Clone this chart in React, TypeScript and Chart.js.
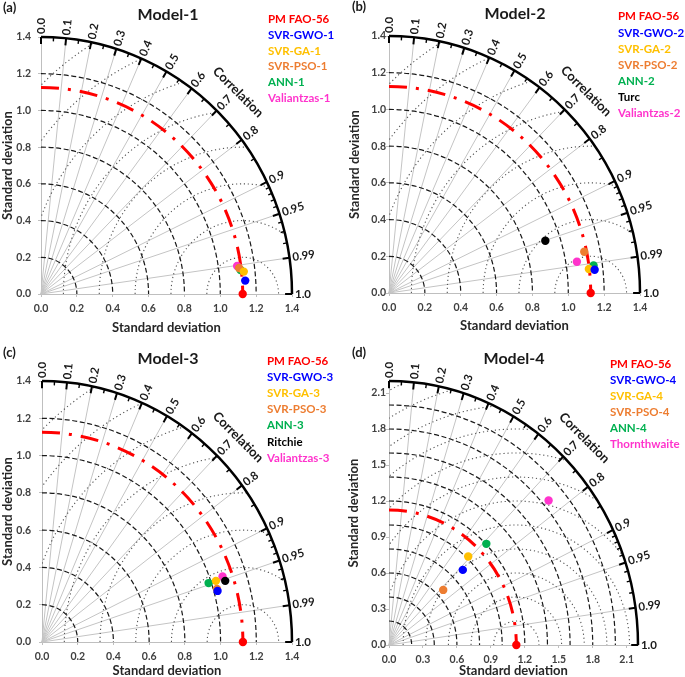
import React, { useEffect, useRef } from "react";
import { Chart, registerables } from "chart.js";

Chart.register(...registerables);

const FONT = "Lato, 'Open Sans', 'DejaVu Sans', sans-serif";

const RED = "#FF0000";
const BLUE = "#0000FF";
const YELLOW = "#FFC000";
const ORANGE = "#ED7D31";
const GREEN = "#00B050";
const BLACK = "#000000";
const PINK = "#FF33CC";

// Reference (observed) standard deviation
const refStd = 1.125;

// Correlation axis
const corrMajor = [0, 0.1, 0.2, 0.3, 0.4, 0.5, 0.6, 0.7, 0.8, 0.9, 0.95, 0.99, 1.0];
const corrMajorLabels = ["0.0", "0.1", "0.2", "0.3", "0.4", "0.5", "0.6", "0.7", "0.8", "0.9", "0.95", "0.99", "1.0"];
const corrMinor = [0.05, 0.15, 0.25, 0.35, 0.45, 0.55, 0.65, 0.75, 0.85, 0.91, 0.92, 0.93, 0.94, 0.96, 0.97, 0.98];
const corrLines = [0.1, 0.2, 0.3, 0.4, 0.5, 0.6, 0.7, 0.8, 0.9, 0.95, 0.99];

// Std-dev arcs (dashed) and RMSD arcs (dotted)
const stdArcsSmall = [0.2, 0.4, 0.6, 0.8, 1.0, 1.2];
const stdArcsLarge = [0.2, 0.4, 0.6, 0.8, 1.0, 1.2, 1.4, 1.6, 1.8, 2.0];
const rmsArcsSmall = [0.2, 0.4, 0.6, 0.8, 1.0, 1.2, 1.4, 1.6, 1.8];
const rmsArcsLarge = [0.2, 0.4, 0.6, 0.8, 1.0, 1.2, 1.4, 1.6, 1.8, 2.0, 2.2, 2.4];

// Model-1
const m1Names = ["PM FAO-56", "SVR-GWO-1", "SVR-GA-1", "SVR-PSO-1", "ANN-1", "Valiantzas-1"];
const m1Colors = [RED, BLUE, YELLOW, ORANGE, GREEN, PINK];
const m1X = [1.125, 1.139, 1.131, 1.105, 1.113, 1.094];
const m1Y = [0, 0.073, 0.122, 0.142, 0.131, 0.153];

// Model-2
const m2Names = ["PM FAO-56", "SVR-GWO-2", "SVR-GA-2", "SVR-PSO-2", "ANN-2", "Turc", "Valiantzas-2"];
const m2Colors = [RED, BLUE, YELLOW, ORANGE, GREEN, BLACK, PINK];
const m2X = [1.125, 1.147, 1.115, 1.089, 1.141, 0.872, 1.048];
const m2Y = [0, 0.127, 0.131, 0.225, 0.15, 0.285, 0.17];

// Model-3
const m3Names = ["PM FAO-56", "SVR-GWO-3", "SVR-GA-3", "SVR-PSO-3", "ANN-3", "Ritchie", "Valiantzas-3"];
const m3Colors = [RED, BLUE, YELLOW, ORANGE, GREEN, BLACK, PINK];
const m3X = [1.125, 0.983, 0.974, 0.98, 0.933, 1.026, 1.011];
const m3Y = [0, 0.274, 0.328, 0.284, 0.316, 0.328, 0.351];

// Model-4
const m4Names = ["PM FAO-56", "SVR-GWO-4", "SVR-GA-4", "SVR-PSO-4", "ANN-4", "Thornthwaite"];
const m4Colors = [RED, BLUE, YELLOW, ORANGE, GREEN, PINK];
const m4X = [1.125, 0.652, 0.7, 0.479, 0.86, 1.41];
const m4Y = [0, 0.626, 0.737, 0.459, 0.843, 1.204];

type PanelCfg = {
  tag: string;
  title: string;
  names: string[];
  colors: string[];
  xs: number[];
  ys: number[];
  max: number;
  step: number;
  stdArcs: number[];
  rmsArcs: number[];
  w: number;
  h: number;
  left: number;
  top: number;
  right: number;
  bottom: number;
  yTickPad: number;
  xTickPad: number;
  yTitlePad: number;
  xTitlePad: number;
  titleX: number;
  titleY: number;
  tagX: number;
  tagY: number;
  legX: number;
  legY: number;
  legStep: number;
  posX: number;
  posY: number;
};

const panels: PanelCfg[] = [
  {
    tag: "(a)", title: "Model-1", names: m1Names, colors: m1Colors, xs: m1X, ys: m1Y,
    max: 1.4, step: 0.2, stdArcs: stdArcsSmall, rmsArcs: rmsArcsSmall,
    w: 342, h: 338, left: 41, top: 37, right: 292, bottom: 294,
    yTickPad: 7, xTickPad: 5, yTitlePad: 0, xTitlePad: 2,
    titleX: 168, titleY: 15, tagX: 3, tagY: 8, legX: 268, legY: 19, legStep: 15.9,
    posX: 0, posY: 0,
  },
  {
    tag: "(b)", title: "Model-2", names: m2Names, colors: m2Colors, xs: m2X, ys: m2Y,
    max: 1.4, step: 0.2, stdArcs: stdArcsSmall, rmsArcs: rmsArcsSmall,
    w: 343, h: 338, left: 47, top: 36, right: 298, bottom: 293,
    yTickPad: 0, xTickPad: 5, yTitlePad: 5.5, xTitlePad: 4,
    titleX: 173, titleY: 14, tagX: 10, tagY: 7, legX: 276, legY: 16.7, legStep: 16.1,
    posX: 342, posY: 0,
  },
  {
    tag: "(c)", title: "Model-3", names: m3Names, colors: m3Colors, xs: m3X, ys: m3Y,
    max: 1.4, step: 0.2, stdArcs: stdArcsSmall, rmsArcs: rmsArcsSmall,
    w: 342, h: 339, left: 42, top: 43, right: 292, bottom: 304,
    yTickPad: 8, xTickPad: 5, yTitlePad: 0, xTitlePad: -2,
    titleX: 168, titleY: 20.7, tagX: 3, tagY: 15, legX: 267, legY: 23.3, legStep: 16.1,
    posX: 0, posY: 338,
  },
  {
    tag: "(d)", title: "Model-4", names: m4Names, colors: m4Colors, xs: m4X, ys: m4Y,
    max: 2.2, step: 0.3, stdArcs: stdArcsLarge, rmsArcs: rmsArcsLarge,
    w: 343, h: 339, left: 47, top: 43, right: 296, bottom: 307,
    yTickPad: 0, xTickPad: 5, yTitlePad: 4.5, xTitlePad: -2,
    titleX: 172, titleY: 20.7, tagX: 10, tagY: 15, legX: 268, legY: 26, legStep: 16.1,
    posX: 342, posY: 338,
  },
];

function makeTaylorPlugin(p: PanelCfg) {
  return {
    id: "taylor",
    beforeDatasetsDraw(chart: any) {
      const ctx: CanvasRenderingContext2D = chart.ctx;
      const sx = chart.scales.x;
      const sy = chart.scales.y;
      const ox = sx.getPixelForValue(0);
      const oy = sy.getPixelForValue(0);
      const kx = sx.getPixelForValue(1) - ox;
      const ky = oy - sy.getPixelForValue(1);
      const R = p.max;
      const Rp = (R * (kx + ky)) / 2;
      const pt = (r: number, th: number) => [ox + r * Math.cos(th) * kx, oy - r * Math.sin(th) * ky];

      ctx.save();
      // correlation rays
      ctx.strokeStyle = "#C4C4C4";
      ctx.lineWidth = 1;
      for (const c of corrLines) {
        const th = Math.acos(c);
        const [x1, y1] = pt(R, th);
        ctx.beginPath();
        ctx.moveTo(ox, oy);
        ctx.lineTo(x1, y1);
        ctx.stroke();
      }

      // std-dev arcs, dashed
      ctx.setLineDash([5, 2.6]);
      ctx.strokeStyle = "#1a1a1a";
      ctx.lineWidth = 1.2;
      for (const r of p.stdArcs) {
        ctx.beginPath();
        ctx.ellipse(ox, oy, r * kx, r * ky, 0, -Math.PI / 2, 0);
        ctx.stroke();
      }

      // RMSD arcs, dotted, clipped to the quadrant
      ctx.save();
      ctx.beginPath();
      ctx.moveTo(ox, oy);
      ctx.ellipse(ox, oy, R * kx, R * ky, 0, -Math.PI / 2, 0);
      ctx.closePath();
      ctx.clip();
      ctx.setLineDash([1.2, 2.8]);
      ctx.strokeStyle = "#555555";
      ctx.lineWidth = 1.1;
      const cx = sx.getPixelForValue(refStd);
      for (const r of p.rmsArcs) {
        ctx.beginPath();
        ctx.ellipse(cx, oy, r * kx, r * ky, 0, Math.PI, 2 * Math.PI);
        ctx.stroke();
      }
      ctx.restore();

      // reference std arc, red dash-dot
      ctx.setLineDash([18, 9, 3, 9]);
      ctx.strokeStyle = RED;
      ctx.lineWidth = 3;
      ctx.beginPath();
      ctx.ellipse(ox, oy, refStd * kx, refStd * ky, 0, -Math.PI / 2, 0);
      ctx.stroke();

      // outer arc
      ctx.setLineDash([]);
      ctx.strokeStyle = "#000";
      ctx.lineWidth = 2.5;
      ctx.beginPath();
      ctx.ellipse(ox, oy, R * kx, R * ky, 0, -Math.PI / 2, 0);
      ctx.stroke();

      // ticks (inward)
      const tick = (c: number, len: number, w: number) => {
        const th = Math.acos(c);
        const [x1, y1] = pt(R, th);
        const [x2, y2] = pt(R * (1 - len / Rp), th);
        ctx.lineWidth = w;
        ctx.beginPath();
        ctx.moveTo(x1, y1);
        ctx.lineTo(x2, y2);
        ctx.stroke();
      };
      for (const c of corrMajor) tick(c, 7, 2);
      for (const c of corrMinor) tick(c, 4, 1.4);

      // correlation labels
      ctx.font = `bold 11.5px ${FONT}`;
      ctx.fillStyle = "#1a1a1a";
      ctx.textAlign = "left";
      ctx.textBaseline = "middle";
      corrMajor.forEach((c, i) => {
        const th = Math.acos(c);
        const [x1, y1] = pt(R * (1 + 3 / Rp), th);
        ctx.save();
        ctx.translate(x1, y1);
        ctx.rotate(-th);
        ctx.fillText(corrMajorLabels[i], 0, 0);
        ctx.restore();
      });

      // "Correlation" caption
      {
        const th = Math.PI / 4;
        const [x1, y1] = pt(R * (1 + 28 / Rp), th);
        ctx.save();
        ctx.translate(x1, y1);
        ctx.rotate(Math.PI / 2 - th);
        ctx.font = `bold 13px ${FONT}`;
        ctx.fillStyle = "#1a1a1a";
        ctx.textAlign = "center";
        ctx.textBaseline = "middle";
        ctx.fillText("Correlation", 0, 0);
        ctx.restore();
      }
      ctx.restore();
    },
    afterDraw(chart: any) {
      const ctx: CanvasRenderingContext2D = chart.ctx;
      ctx.save();
      ctx.textBaseline = "middle";
      // panel tag
      ctx.font = `bold 13px ${FONT}`;
      ctx.fillStyle = "#1a1a1a";
      ctx.textAlign = "left";
      ctx.fillText(p.tag, p.tagX, p.tagY);
      // title
      ctx.font = `bold 16px ${FONT}`;
      ctx.textAlign = "center";
      ctx.fillText(p.title, p.titleX, p.titleY);
      // legend
      ctx.font = `bold 11.5px ${FONT}`;
      ctx.textAlign = "left";
      p.names.forEach((n, i) => {
        ctx.fillStyle = p.colors[i];
        ctx.fillText(n, p.legX, p.legY + i * p.legStep);
      });
      ctx.restore();
    },
  };
}

function Panel({ cfg }: { cfg: PanelCfg }) {
  const ref = useRef<HTMLCanvasElement | null>(null);
  useEffect(() => {
    if (!ref.current) return;
    const p = cfg;
    const tickFont = { family: FONT, size: 10.5, weight: "bold" as const };
    const titleFont = { family: FONT, size: 13, weight: "bold" as const };
    const fmt = (v: any) => Number(v).toFixed(1);
    const chart = new Chart(ref.current, {
      type: "scatter",
      data: {
        datasets: p.names.map((n, i) => ({
          label: n,
          data: [{ x: p.xs[i], y: p.ys[i] }],
          backgroundColor: p.colors[i],
          borderColor: p.colors[i],
          borderWidth: 0,
          pointRadius: 4.2,
          pointHoverRadius: 4.2,
          clip: false as any,
        })),
      },
      options: {
        animation: false,
        responsive: false,
        maintainAspectRatio: false,
        events: [],
        layout: {
          padding: { left: 0, top: p.top, right: p.w - p.right, bottom: 0 },
        },
        plugins: {
          legend: { display: false },
          tooltip: { enabled: false },
          title: { display: false },
        },
        scales: {
          x: {
            type: "linear",
            min: 0,
            max: p.max,
            ticks: {
              stepSize: p.step,
              includeBounds: false,
              callback: fmt,
              font: tickFont,
              color: "#404040",
              padding: p.xTickPad,
              maxRotation: 0,
              autoSkip: false,
            },
            grid: { drawOnChartArea: false, tickLength: 3, color: "#BFBFBF" },
            border: { color: "#BFBFBF", width: 1 },
            title: {
              display: true,
              text: "Standard deviation",
              font: titleFont,
              color: "#262626",
              padding: { top: 0, bottom: p.xTitlePad },
            },
            afterFit: (s: any) => {
              s.height = p.h - p.bottom;
              s.paddingLeft = 0;
              s.paddingRight = 0;
              s.paddingTop = 0;
              s.paddingBottom = 0;
            },
          },
          y: {
            type: "linear",
            min: 0,
            max: p.max,
            ticks: {
              stepSize: p.step,
              includeBounds: false,
              callback: fmt,
              font: tickFont,
              color: "#404040",
              padding: p.yTickPad,
              autoSkip: false,
            },
            grid: { drawOnChartArea: false, tickLength: 3, color: "#BFBFBF" },
            border: { color: "#BFBFBF", width: 1 },
            title: {
              display: true,
              text: "Standard deviation",
              font: titleFont,
              color: "#262626",
              padding: { top: p.yTitlePad, bottom: 0 },
            },
            afterFit: (s: any) => {
              s.width = p.left;
              s.paddingLeft = 0;
              s.paddingRight = 0;
              s.paddingTop = 0;
              s.paddingBottom = 0;
            },
          },
        },
      } as any,
      plugins: [makeTaylorPlugin(p) as any],
    });
    return () => chart.destroy();
  }, [cfg]);
  return (
    <canvas
      ref={ref}
      width={cfg.w}
      height={cfg.h}
      style={{ position: "absolute", left: cfg.posX, top: cfg.posY, width: cfg.w, height: cfg.h, display: "block" }}
    />
  );
}

export default function App() {
  return (
    <div style={{ position: "absolute", left: 0, top: 0, width: 685, height: 677, background: "#fff", overflow: "hidden" }}>
      {panels.map((p) => (
        <Panel key={p.tag} cfg={p} />
      ))}
    </div>
  );
}
